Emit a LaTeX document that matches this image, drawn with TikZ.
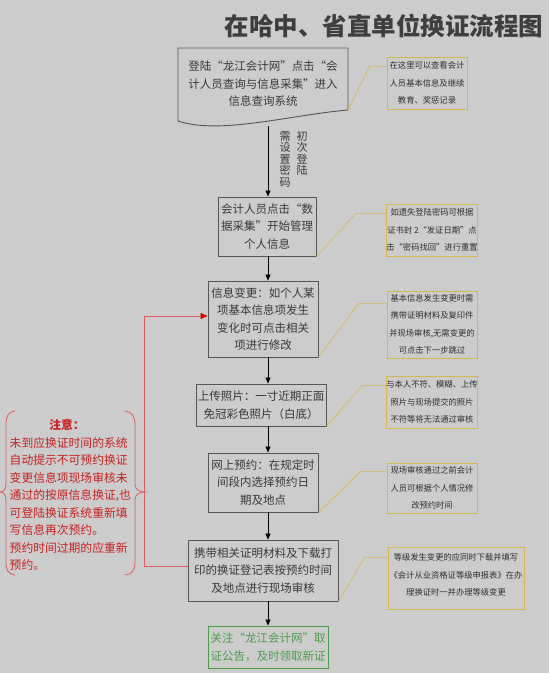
\documentclass[tikz,border=0pt]{standalone}
\usepackage{fontspec}
\newfontfamily\cjk{Noto Sans CJK SC}
\usetikzlibrary{arrows.meta,calc}
\definecolor{bg}{HTML}{CCCCCC}
\definecolor{boxc}{HTML}{555555}
\definecolor{txt}{HTML}{383838}
\definecolor{txt2}{HTML}{2E2E2E}
\definecolor{gold}{HTML}{D6B74E}
\definecolor{greenc}{HTML}{4A9E4A}
\definecolor{redl}{HTML}{DC5C5C}
\definecolor{redt}{HTML}{C82020}
\definecolor{titlec}{HTML}{3E3E3E}
\begin{document}
\begin{tikzpicture}[x=1pt,y=-1pt,
  box/.style={draw=boxc, line width=0.9pt, inner sep=0pt, align=center, text=txt,
    font=\cjk\fontsize{11.5}{17.5}\selectfont},
  callout/.style={draw=gold, line width=0.9pt, inner sep=0pt, align=center, text=txt2,
    font=\cjk\fontsize{8.3}{17.5}\selectfont},
  calltext/.style={inner sep=0pt, align=center, text=txt2,
    font=\cjk\fontsize{8.3}{17.5}\selectfont},
  lead/.style={draw=gold, line width=0.55pt},
  flow/.style={-{Triangle[length=6pt,width=5pt]}, line width=0.8pt, black},
  vlabel/.style={inner sep=0pt, align=center, text=txt, font=\cjk\fontsize{11}{11.5}\selectfont},
  notetext/.style={inner sep=0pt, align=left, text=redt, font=\cjk\fontsize{11.8}{17.45}\selectfont},
  redline/.style={draw=redl, line width=0.9pt}
]
\fill[bg] (0,0) rectangle (549,673);
\useasboundingbox (0,0) rectangle (549,673);

% title
\node[inner sep=0pt, text=titlec, font=\cjk\bfseries\fontsize{24.5}{24.5}\selectfont] (title) at (384,26) {在哈中、省直单位换证流程图};

% box 1 (document shape)
\draw[draw=boxc, line width=0.9pt] (348,110) -- (348,48) -- (178,48) -- (178,121)
  .. controls (220,135) and (290,115) .. (348,110);
\node[box, draw=none] (b1) at (263,84) {登陆“龙江会计网”点击“会\\计人员查询与信息采集”进入\\信息查询系统};
\coordinate (b1b) at (268,126);
\coordinate (b1c) at (348,110);
\coordinate (ax) at (268,0);

% main boxes
\node[box, minimum width=98, minimum height=59] (b2) at (267,226.5) {会计人员点击“数\\据采集”开始管理\\个人信息};
\node[box, minimum width=110, minimum height=76] (b3) at (263,319) {信息变更：如个人某\\项基本信息项发生\\变化时可点击相关\\项进行修改};
\node[box, minimum width=130, minimum height=42] (b4) at (261,405) {上传照片：一寸近期正面\\免冠彩色照片（白底）};
\node[box, minimum width=110, minimum height=59] (b5) at (263,482.5) {网上预约：在规定时\\间段内选择预约日\\期及地点};
\node[box, minimum width=150, minimum height=61] (b6) at (263,570.5) {携带相关证明材料及下载打\\印的换证登记表按预约时间\\及地点进行现场审核};
\node[box, draw=greenc, text=greenc, minimum width=120, minimum height=42] (b7) at (268,647) {关注“龙江会计网”取\\证公告，及时领取新证};

% vertical labels
\node[vlabel, anchor=north] (v1) at (302,131) {初\\次\\登\\陆};
\node[vlabel, anchor=north] (v2) at (285,131) {需\\设\\置\\密\\码};

% flow arrows
\draw[flow] (b1b) -- (b2.north -| ax);
\draw[flow] (b2.south -| ax) -- (b3.north -| ax);
\draw[flow] (b3.south -| ax) -- (b4.north -| ax);
\draw[flow] (b4.south -| ax) -- (b5.north -| ax);
\draw[flow] (b5.south -| ax) -- (b6.north -| ax);
\draw[flow] (b6.south -| ax) -- (b7.north -| ax);

% callouts
\node[callout, minimum width=80, minimum height=52] (c1) at (427,83) {在这里可以查看会计\\人员基本信息及继续\\教育、奖惩记录};
\node[callout, minimum width=90, minimum height=52] (c2) at (432,230) {如遗失登陆密码可根据\\证书封 2“发证日期”点\\击“密码找回”进行重置};
\node[callout, minimum width=90, minimum height=67] (c3) at (432,324.5) {基本信息发生变更时需\\携带证明材料及复印件\\并现场审核,无需变更的\\可点击下一步跳过};
\node[callout, minimum width=90, minimum height=52] (c4) at (432,402) {与本人不符、模糊、上传\\照片与现场提交的照片\\不符等将无法通过审核};
\node[callout, minimum width=90, minimum height=50] (c5) at (432,488) {现场审核通过之前会计\\人员可根据个人情况修\\改预约时间};
\node[callout, minimum width=136, minimum height=62] (c6) at (456,578) {};
\node[calltext] (c6t) at (456,575) {等级发生变更的应同时下载并填写\\《会计从业资格证等级申报表》在办\\理换证时一并办理等级变更};

% leader lines
\draw[lead] (b1c) -- ($(c1.north west)+(-17,10)$) -- ($(c1.north west)+(0,10)$);
\draw[lead] (b2.south east) -- ($(c2.north west)+(-30,10)$) -- ($(c2.north west)+(0,10)$);
\draw[lead] (b3.south east) -- ($(c3.north west)+(-28,13)$) -- ($(c3.north west)+(0,13)$);
\draw[lead] (b4.south east) -- ($(c4.north west)+(-24,10)$) -- ($(c4.north west)+(0,10)$);
\draw[lead] (b5.south east) -- ($(c5.north west)+(-26,9)$) -- ($(c5.north west)+(0,9)$);
\draw[lead] (b6.south east) -- ($(c6.north west)+(-23,11)$) -- ($(c6.north west)+(0,11)$);

% red return line
\draw[redline, -{Triangle[length=7pt,width=6pt,color=red!85!black]}] ([yshift=4pt]b6.west) -- ++(-43,0) |- ([yshift=3pt]b3.west);

% brace box
\draw[redline, line width=0.8pt] (15,411) .. controls (8,412) and (6,416) .. (6,425) -- (6,484)
  .. controls (6,490) and (3,492) .. (0,492) .. controls (3,492) and (6,494) .. (6,500) -- (6,562)
  .. controls (6,570) and (8,574) .. (15,575);
\draw[redline, line width=0.8pt] (125,411) .. controls (132,412) and (135,416) .. (135,425) -- (135,484)
  .. controls (135,490) and (140,492) .. (145,492) .. controls (140,492) and (135,494) .. (135,500) -- (135,562)
  .. controls (135,570) and (132,574) .. (125,575);
\node[inner sep=0pt, text=redt, font=\cjk\bfseries\fontsize{11.8}{12}\selectfont] (nt) at (67,425) {注意：};
\node[notetext, anchor=west] (nb) at (9.5,504) {未到应换证时间的系统\\自动提示不可预约换证\\变更信息项现场审核未\\通过的按原信息换证,也\\可登陆换证系统重新填\\写信息再次预约。\\预约时间过期的应重新\\预约。};
\end{tikzpicture}
\end{document}
